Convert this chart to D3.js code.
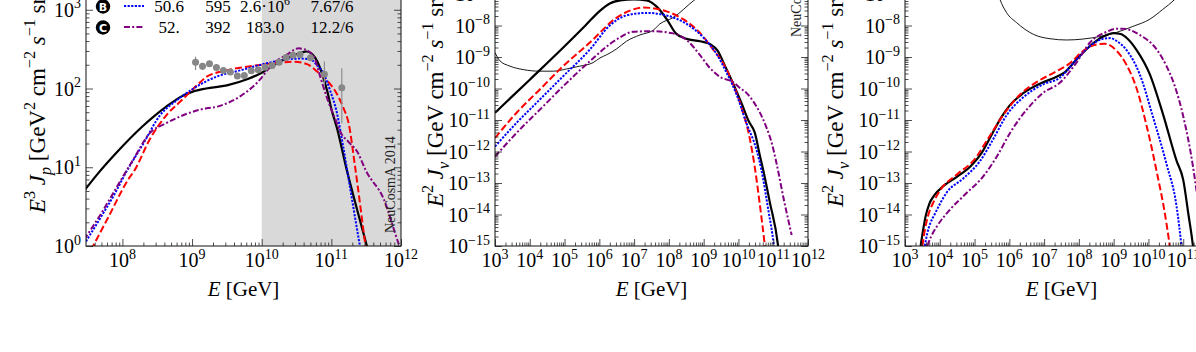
<!DOCTYPE html>
<html lang="en">
<head>
<meta charset="UTF-8">
<title>Proton and neutrino spectra</title>
<script src="https://cdn.jsdelivr.net/npm/d3@7"></script>
<style>
    body { margin: 0; background: #fff; }
    svg { display: block; font-family: "Liberation Serif", "Times New Roman", serif; }
</style>
</head>
<body>
<svg width="1196" height="352"></svg>
<script>
    // all curves are [log10 E/GeV, log10 flux]

    // left panel: E^3 J_p (cosmic ray protons)
    var protonBlack = [[7.45,0.7],[7.63,0.9],[7.91,1.18],[8.29,1.52],[8.63,1.77],[8.85,1.9],[9.01,1.96],[9.2,2.0],[9.5,2.04],[9.8,2.12],[10.0,2.2],[10.2,2.31],[10.4,2.4],[10.55,2.45],[10.65,2.47],[10.72,2.44],[10.8,2.34],[10.87,2.18],[10.94,1.97],[11.0,1.74],[11.08,1.5],[11.22,0.97],[11.37,0.46],[11.51,0],[11.55,-0.13]];
    var protonRed = [[7.55,-0.05],[7.8,0.37],[8.08,0.84],[8.18,0.97],[8.39,1.35],[8.63,1.66],[8.85,1.85],[9.07,2.04],[9.21,2.15],[9.5,2.23],[9.98,2.3],[10.26,2.33],[10.46,2.34],[10.65,2.31],[10.79,2.22],[10.93,2.11],[11.08,1.93],[11.17,1.76],[11.25,1.55],[11.34,1.01],[11.49,0],[11.52,-0.2]];
    var protonBlue = [[7.45,0.02],[7.7,0.38],[7.9,0.68],[8.03,0.9],[8.3,1.3],[8.54,1.66],[8.78,1.85],[9.02,2.0],[9.35,2.15],[9.69,2.23],[10.07,2.32],[10.36,2.37],[10.55,2.38],[10.7,2.37],[10.79,2.3],[10.89,2.19],[10.98,1.98],[11.08,1.69],[11.17,1.26],[11.25,0.84],[11.41,0],[11.45,-0.2]];
    var protonPurple = [[7.45,0.08],[7.7,0.42],[7.9,0.72],[8.15,1.09],[8.39,1.43],[8.63,1.56],[8.87,1.66],[9.11,1.73],[9.4,1.78],[9.69,1.9],[9.93,2.07],[10.17,2.32],[10.36,2.43],[10.53,2.51],[10.6,2.5],[10.74,2.42],[10.84,2.15],[10.93,1.9],[11.08,1.56],[11.13,1.45],[11.25,1.32],[11.37,1.2],[11.5,0.95],[11.75,0.6],[11.97,0.02],[12.0,-0.05]];

    // measured spectrum (grey points): log10 E, log10 E^3J, error down/up in log10
    var dataLgE = [9.05,9.15,9.25,9.35,9.45,9.55,9.65,9.75,9.85,9.95,10.05,10.15,10.25,10.35,10.45,10.55,10.7,10.9,11.15];
    var dataLgJ = [2.334,2.283,2.313,2.267,2.229,2.211,2.16,2.165,2.224,2.237,2.271,2.292,2.334,2.393,2.423,2.432,2.389,2.182,2.008];
    var dataErrDown = [0.1,0.05,0.03,0.02,0.02,0.02,0.02,0.02,0.02,0.02,0.02,0.02,0.02,0.02,0.02,0.03,0.04,0.16,0.45];
    var dataErrUp = [0.07,0.04,0.03,0.02,0.02,0.02,0.02,0.02,0.02,0.02,0.02,0.02,0.02,0.02,0.02,0.03,0.04,0.16,0.25];

    // middle panel: E^2 J_nu
    var nuBlack = [[3.0,-10.77],[4.0,-9.72],[5.0,-8.66],[5.6,-8.0],[6.0,-7.55],[6.3,-7.3],[6.6,-7.2],[7.0,-7.17],[7.35,-7.2],[7.65,-7.4],[7.95,-7.82],[8.2,-8.25],[8.5,-8.42],[8.9,-8.5],[9.2,-8.6],[9.4,-8.8],[9.6,-9.25],[9.85,-9.85],[10.1,-10.5],[10.3,-11.05],[10.47,-11.4],[10.61,-12.1],[10.71,-12.58],[10.9,-13.6],[11.14,-15],[11.17,-15.3]];
    var nuRed = [[3.0,-11.57],[3.62,-10.77],[4.29,-10.03],[4.96,-9.29],[5.73,-8.54],[6.5,-7.75],[6.9,-7.52],[7.26,-7.43],[7.6,-7.46],[7.93,-7.55],[8.41,-7.8],[8.89,-8.23],[9.27,-8.76],[9.56,-9.2],[9.85,-9.87],[10.13,-10.75],[10.3,-11.45],[10.47,-12.5],[10.61,-13.64],[10.76,-15],[10.8,-15.4]];
    var nuBlue = [[3.0,-11.84],[3.62,-11.09],[4.29,-10.35],[4.96,-9.61],[5.73,-8.76],[6.3,-8.0],[6.78,-7.68],[7.36,-7.6],[7.93,-7.68],[8.51,-7.95],[8.99,-8.38],[9.37,-8.9],[9.66,-9.5],[9.95,-10.2],[10.23,-11.1],[10.52,-11.95],[10.66,-12.58],[10.85,-13.8],[11.02,-15],[11.05,-15.3]];
    var nuPurple = [[3.0,-12.16],[3.62,-11.41],[4.29,-10.67],[4.96,-9.93],[5.73,-9.13],[6.5,-8.44],[6.97,-8.2],[7.45,-8.18],[8.12,-8.25],[8.55,-8.5],[8.9,-8.95],[9.18,-9.35],[9.47,-9.63],[9.85,-9.8],[10.04,-9.98],[10.23,-10.14],[10.42,-10.4],[10.61,-10.75],[10.81,-11.25],[10.95,-11.7],[11.1,-12.4],[11.3,-13.5],[11.53,-14.65]];
    var nuSensitivity = [[3.0,-8.86],[3.14,-9.12],[3.43,-9.29],[3.81,-9.4],[4.29,-9.45],[4.67,-9.45],[5.06,-9.38],[5.44,-9.29],[5.82,-9.18],[6.02,-9.03],[6.21,-8.93],[6.5,-8.74],[6.78,-8.5],[7.17,-8.3],[7.55,-8.15],[7.74,-7.95],[8.12,-7.75],[8.7,-7.22],[9.2,-6.8],[9.8,-6.3]];

    // right panel: E^2 J_nu (second source set)
    var nu2Black = [[3.45,-15],[3.52,-14.5],[3.6,-14.02],[3.7,-13.66],[3.85,-13.38],[4.1,-13.1],[4.5,-12.8],[4.9,-12.45],[5.2,-12.05],[5.5,-11.45],[5.75,-10.95],[6.0,-10.55],[6.4,-10.15],[6.97,-9.8],[7.3,-9.66],[7.6,-9.48],[7.93,-9.08],[8.32,-8.65],[8.7,-8.35],[9.0,-8.24],[9.2,-8.27],[9.4,-8.42],[9.66,-8.78],[10.04,-9.55],[10.42,-10.82],[10.81,-12.3],[11.0,-12.9],[11.15,-14.0],[11.28,-15],[11.3,-15.2]];
    var nu2Red = [[3.5,-15],[3.57,-14.5],[3.66,-14.05],[3.8,-13.65],[4.0,-13.25],[4.5,-12.72],[4.96,-12.3],[5.44,-11.5],[5.82,-10.85],[6.3,-10.2],[6.78,-9.8],[7.36,-9.45],[7.74,-9.2],[8.12,-8.81],[8.51,-8.6],[8.75,-8.58],[9.08,-8.8],[9.37,-9.25],[9.66,-10.0],[9.94,-11.15],[10.23,-12.6],[10.52,-14.3],[10.61,-15],[10.63,-15.2]];
    var nu2Blue = [[3.57,-15],[3.64,-14.6],[3.72,-14.3],[3.85,-14.0],[4.2,-13.3],[4.68,-12.85],[5.16,-12.3],[5.54,-11.6],[5.92,-10.85],[6.4,-10.28],[6.97,-9.87],[7.45,-9.66],[7.93,-9.08],[8.32,-8.65],[8.7,-8.42],[8.9,-8.4],[9.1,-8.5],[9.37,-8.78],[9.75,-9.55],[10.13,-10.9],[10.52,-12.4],[10.81,-13.75],[10.95,-15],[10.97,-15.2]];
    var nu2Purple = [[3.64,-15],[3.75,-14.7],[3.91,-14.39],[4.29,-13.85],[4.77,-13.32],[5.25,-12.79],[5.64,-12.16],[6.02,-11.41],[6.5,-10.67],[6.97,-10.14],[7.45,-9.82],[7.93,-9.18],[8.32,-8.54],[8.8,-8.2],[9.1,-8.1],[9.27,-8.1],[9.75,-8.3],[10.23,-8.75],[10.52,-9.29],[10.75,-9.9],[11.0,-10.88],[11.28,-12.47],[11.45,-13.8],[11.6,-15]];
    var nu2Sensitivity = [[5.55,-6.5],[5.73,-7.17],[5.92,-7.59],[6.21,-7.91],[6.69,-8.28],[7.17,-8.42],[7.65,-8.46],[8.12,-8.43],[8.6,-8.35],[9.08,-8.22],[9.55,-8.03],[10.04,-7.8],[10.4,-7.5],[10.76,-7.17],[11.0,-6.9]];

    // legend rows (row A is above the visible area)
    var legendKeys = ['B', 'C'];
    var legendCol1 = ['50.6', '52.'];
    var legendCol2 = ['595', '392'];
    var legendCol3 = [['2.6·10', '6'], ['183.0', '']];
    var legendCol4 = ['7.67/6', '12.2/6'];

    var styles = {
        black: { color: '#000', dash: null },
        red: { color: '#ff0000', dash: '7,3' },
        blue: { color: '#0000ff', dash: '2.2,1.4' },
        purple: { color: '#800080', dash: '6,2.2,2,2.2' }
    };

    var svg = d3.select('svg');
    var W = 1196;
    var plotTop = -69, plotBottom = 246;
    var fs = 20;

    var x1 = d3.scaleLog().domain([3e7, 1e12]).range([86, 401]);
    var y1 = d3.scaleLog().domain([1, 1e4]).range([plotBottom, plotTop]);
    var x2 = d3.scaleLog().domain([1e3, 1e12]).range([495, 808]);
    var y2 = d3.scaleLog().domain([1e-15, 1e-5]).range([plotBottom, plotTop]);
    var x3 = d3.scaleLog().domain([1e3, 1e12]).range([905, 1218]);

    function pw(v) { return Math.pow(10, v); }

    // text with super/subscripts
    function richText(sel, parts, size) {
        var cur = 0;
        parts.forEach(function (p) {
            var off = p.sup ? -0.42 * size : (p.sub ? 0.25 * size : 0);
            var ts = sel.append('tspan').attr('dy', off - cur).text(p.t);
            cur = off;
            if (p.sup || p.sub) ts.attr('font-size', size * 0.7);
            if (p.it) ts.attr('font-style', 'italic');
        });
    }

    function decades(sc) {
        var d = sc.domain(), lo = Math.log10(d[0]), hi = Math.log10(d[1]);
        var majors = [], minors = [];
        for (var e = Math.floor(lo); e <= Math.ceil(hi); e++) {
            if (e >= lo - 1e-9 && e <= hi + 1e-9) majors.push(e);
            for (var k = 2; k < 10; k++) {
                var v = e + Math.log10(k);
                if (v > lo && v < hi) minors.push(pw(v));
            }
        }
        return { majors: majors, minors: minors };
    }

    function panel(x, y, idx) {
        var xr = x.range(), yr = y.range();
        var g = svg.append('g');
        var clipId = 'clip' + idx;
        svg.append('clipPath').attr('id', clipId).append('rect')
            .attr('x', xr[0]).attr('y', yr[1]).attr('width', xr[1] - xr[0]).attr('height', yr[0] - yr[1]);
        var plot = g.append('g').attr('clip-path', 'url(#' + clipId + ')');

        var xd = decades(x), yd = decades(y);
        var axes = g.append('g').attr('class', 'axes');
        function addAxis(axisFn, scale, vals, size, tx, ty) {
            axes.append('g').attr('transform', 'translate(' + tx + ',' + ty + ')')
                .call(axisFn(scale).tickValues(vals).tickSize(-size).tickSizeOuter(0).tickFormat(''))
                .call(function (a) {
                    a.select('.domain').remove();
                    a.selectAll('line').attr('stroke', '#222').attr('stroke-width', 0.8);
                });
        }
        var xm = xd.majors.map(pw), ym = yd.majors.map(pw);
        addAxis(d3.axisBottom, x, xm, 7, 0, yr[0]);
        addAxis(d3.axisBottom, x, xd.minors, 3.5, 0, yr[0]);
        addAxis(d3.axisTop, x, xm, 7, 0, yr[1]);
        addAxis(d3.axisTop, x, xd.minors, 3.5, 0, yr[1]);
        addAxis(d3.axisLeft, y, ym, 7, xr[0], 0);
        addAxis(d3.axisLeft, y, yd.minors, 3.5, xr[0], 0);
        addAxis(d3.axisRight, y, ym, 7, xr[1], 0);
        addAxis(d3.axisRight, y, yd.minors, 3.5, xr[1], 0);

        g.append('rect').attr('x', xr[0]).attr('y', yr[1])
            .attr('width', xr[1] - xr[0]).attr('height', yr[0] - yr[1])
            .attr('fill', 'none').attr('stroke', '#111').attr('stroke-width', 1);

        // tick labels (only those that reach into the picture)
        xd.majors.filter(function (e) { return x(pw(e)) < W; }).forEach(function (e) {
            var t = g.append('text').attr('x', x(pw(e))).attr('y', yr[0] + 21)
                .attr('text-anchor', 'middle').attr('font-size', fs);
            richText(t, [{ t: '10' }, { t: String(e).replace('-', '\u2212'), sup: true }], fs);
        });
        yd.majors.filter(function (e) { return y(pw(e)) > -8; }).forEach(function (e) {
            var t = g.append('text').attr('x', xr[0] - 5).attr('y', y(pw(e)) + 7)
                .attr('text-anchor', 'end').attr('font-size', fs);
            richText(t, [{ t: '10' }, { t: String(e).replace('-', '\u2212'), sup: true }], fs);
        });

        // x title
        var xt = g.append('text').attr('x', (xr[0] + xr[1]) / 2).attr('y', 296)
            .attr('text-anchor', 'middle').attr('font-size', 21);
        richText(xt, [{ t: 'E', it: true }, { t: ' [GeV]' }], 21);

        return plot;
    }

    function curve(plot, x, y, data, st, width) {
        var line = d3.line()
            .x(function (d) { return x(pw(d[0])); })
            .y(function (d) { return y(pw(d[1])); })
            .curve(d3.curveMonotoneX);
        plot.append('path').datum(data).attr('d', line)
            .attr('fill', 'none').attr('stroke', st.color).attr('stroke-width', width || 2)
            .attr('stroke-dasharray', st.dash);
    }

    function yTitle(x0, y0, parts) {
        var t = svg.append('text').attr('transform', 'translate(' + x0 + ',' + y0 + ') rotate(-90)')
            .attr('font-size', 23);
        richText(t, parts, 23);
    }

    // ---- panel 1 ----
    var p1 = panel(x1, y1, 1);
    p1.append('rect').attr('x', x1(1e10)).attr('y', plotTop)
        .attr('width', x1(1e12) - x1(1e10)).attr('height', plotBottom - plotTop).attr('fill', '#d9d9d9');
    p1.node().parentNode.insertBefore(p1.node(), p1.node().parentNode.firstChild);
    curve(p1, x1, y1, protonBlack, styles.black, 2.2);
    curve(p1, x1, y1, protonRed, styles.red);
    curve(p1, x1, y1, protonBlue, styles.blue);
    curve(p1, x1, y1, protonPurple, styles.purple);

    var pts = p1.append('g');
    dataLgE.forEach(function (e, i) {
        var cx = x1(pw(e));
        pts.append('line').attr('x1', cx).attr('x2', cx)
            .attr('y1', y1(pw(dataLgJ[i] - dataErrDown[i]))).attr('y2', y1(pw(dataLgJ[i] + dataErrUp[i])))
            .attr('stroke', '#8c8c8c').attr('stroke-width', 1.2);
        pts.append('circle').attr('cx', cx).attr('cy', y1(pw(dataLgJ[i]))).attr('r', 3.5).attr('fill', '#878787');
    });

    svg.append('text').attr('transform', 'translate(395,233) rotate(-90)')
        .attr('font-size', 14).attr('fill', '#222').text('NeuCosmA 2014');

    // legend
    var lg = svg.append('g');
    var lineKeys = [styles.blue, styles.purple];
    legendKeys.forEach(function (k, i) {
        var yy = 6.5 + i * 21;
        lg.append('circle').attr('cx', 103).attr('cy', yy).attr('r', 7.2).attr('fill', '#000');
        lg.append('text').attr('x', 103).attr('y', yy + 4).attr('text-anchor', 'middle')
            .attr('font-size', 11).attr('font-weight', 'bold').attr('fill', '#fff')
            .attr('font-family', '"DejaVu Sans", sans-serif').text(k);
        lg.append('line').attr('x1', 124).attr('x2', 144).attr('y1', yy - 0.5).attr('y2', yy - 0.5)
            .attr('stroke', lineKeys[i].color).attr('stroke-width', 2).attr('stroke-dasharray', lineKeys[i].dash);
        var base = yy + 5.5;
        lg.append('text').attr('x', 169).attr('y', base).attr('text-anchor', 'middle').attr('font-size', 17).text(legendCol1[i]);
        lg.append('text').attr('x', 218).attr('y', base).attr('text-anchor', 'middle').attr('font-size', 17).text(legendCol2[i]);
        var t3 = lg.append('text').attr('x', 265).attr('y', base).attr('text-anchor', 'middle').attr('font-size', 17);
        var parts3 = [{ t: legendCol3[i][0] }];
        if (legendCol3[i][1]) parts3.push({ t: legendCol3[i][1], sup: true });
        richText(t3, parts3, 17);
        lg.append('text').attr('x', 332).attr('y', base).attr('text-anchor', 'middle').attr('font-size', 17).text(legendCol4[i]);
    });

    yTitle(45, 213, [{ t: 'E', it: true }, { t: '3', sup: true }, { t: ' ' }, { t: 'J', it: true }, { t: 'p', sub: true, it: true },
        { t: ' [GeV' }, { t: '2', sup: true }, { t: ' cm' }, { t: '\u22122', sup: true }, { t: ' ' }, { t: 's', it: true },
        { t: '\u22121', sup: true }, { t: ' sr' }, { t: '\u22121', sup: true }, { t: ']' }]);

    // ---- panel 2 ----
    var p2 = panel(x2, y2, 2);
    p2.node().parentNode.insertBefore(p2.node(), p2.node().parentNode.firstChild);
    curve(p2, x2, y2, nuSensitivity, styles.black, 0.9);
    curve(p2, x2, y2, nuBlack, styles.black, 2.2);
    curve(p2, x2, y2, nuRed, styles.red);
    curve(p2, x2, y2, nuBlue, styles.blue);
    curve(p2, x2, y2, nuPurple, styles.purple);
    svg.append('text').attr('transform', 'translate(800.5,37) rotate(-90)')
        .attr('font-size', 14).attr('fill', '#222').text('NeuCosmA 2014');

    var nuTitle = [{ t: 'E', it: true }, { t: '2', sup: true }, { t: ' ' }, { t: 'J', it: true }, { t: '\u03bd', sub: true, it: true },
        { t: ' [GeV cm' }, { t: '\u22122', sup: true }, { t: ' ' }, { t: 's', it: true },
        { t: '\u22121', sup: true }, { t: ' sr' }, { t: '\u22121', sup: true }, { t: ']' }];
    yTitle(443, 207, nuTitle);

    // ---- panel 3 ----
    var p3 = panel(x3, y2, 3);
    p3.node().parentNode.insertBefore(p3.node(), p3.node().parentNode.firstChild);
    curve(p3, x3, y2, nu2Sensitivity, styles.black, 0.9);
    curve(p3, x3, y2, nu2Black, styles.black, 2.2);
    curve(p3, x3, y2, nu2Red, styles.red);
    curve(p3, x3, y2, nu2Blue, styles.blue);
    curve(p3, x3, y2, nu2Purple, styles.purple);
    yTitle(843, 207, nuTitle);
</script>
</body>
</html>
